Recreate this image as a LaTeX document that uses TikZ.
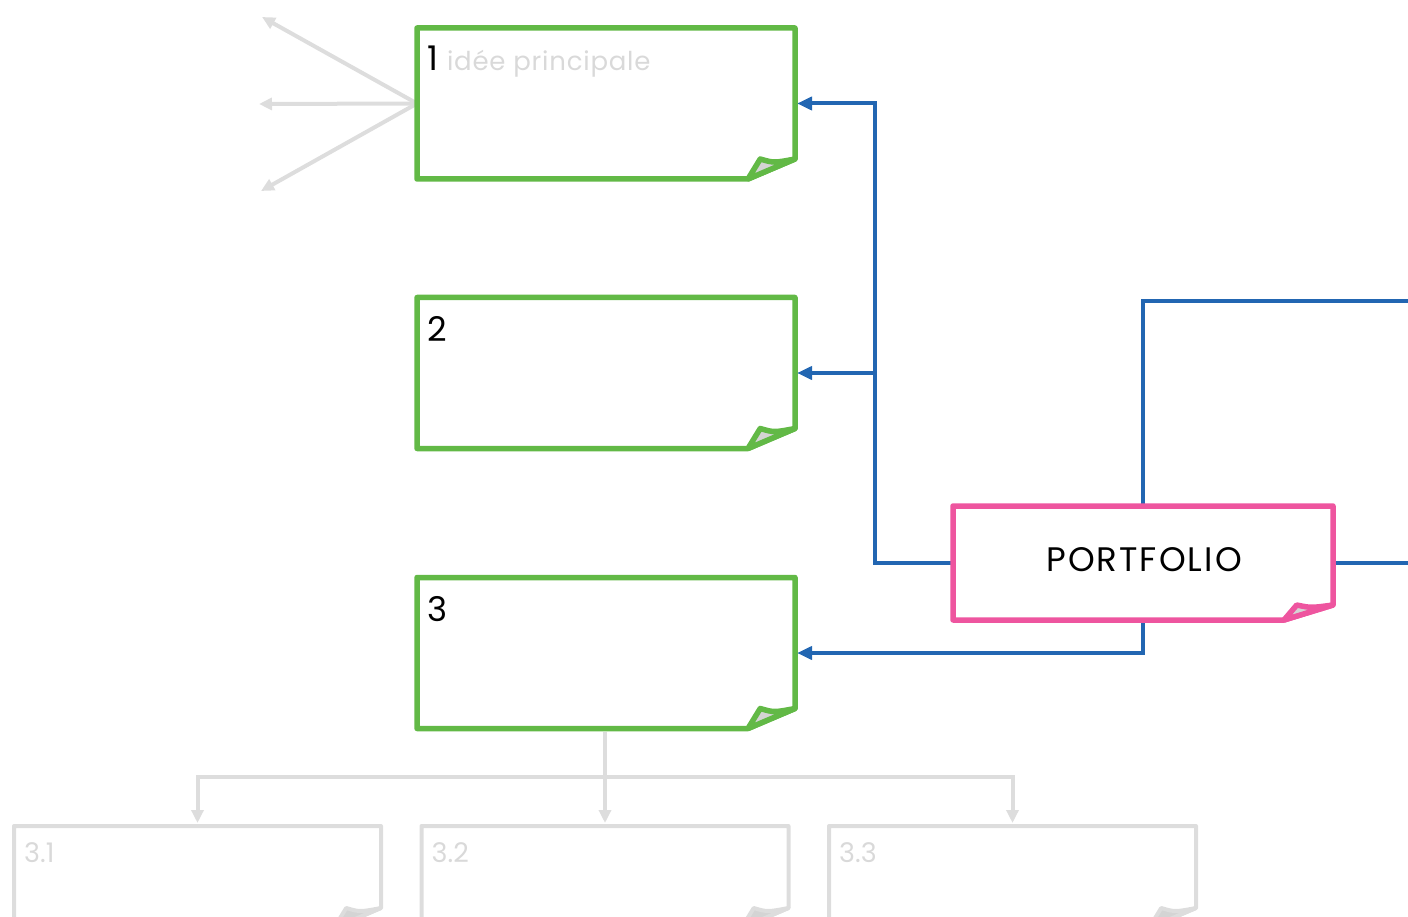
\documentclass[tikz,border=0pt]{standalone}
\usepackage{fontspec}
\setmainfont{Poppins}
\usetikzlibrary{calc,arrows.meta}
\definecolor{gn}{HTML}{62B946}
\definecolor{pkc}{HTML}{EE559F}
\definecolor{bl}{HTML}{2266B2}
\definecolor{gy}{HTML}{DDDDDD}
\definecolor{gt}{HTML}{D9D9D9}
\definecolor{foldc}{HTML}{D4D4D4}
\tikzset{
 greenbox/.style={minimum width=378pt,minimum height=151pt,inner sep=0pt,outer sep=0pt},
 pinkbox/.style={minimum width=380pt,minimum height=114pt,inner sep=0pt,outer sep=0pt,font=\fontsize{34}{40}\selectfont\addfontfeature{LetterSpace=6}},
 greybox/.style={minimum width=367pt,minimum height=102pt,inner sep=0pt,outer sep=0pt},
 blueline/.style={draw=bl,line width=4pt},
 bluearrow/.style={blueline,-{Triangle[length=15pt,width=13pt]},shorten >=2pt},
 greyarrow/.style={draw=gy,line width=4pt,-{Triangle[length=13pt,width=12pt]}},
 numlabel/.style={anchor=base west,inner sep=0pt,font=\fontsize{34}{40}\selectfont},
 sublabel/.style={anchor=base west,inner sep=0pt,text=gt,font=\fontsize{27}{32}\selectfont},
}
\newcommand\drawnote[5]{%
 \draw[draw=#2,line width=#5,line join=round] (#1.north west) -- (#1.north east) -- ($(#1.south east)+(0,-#4)$) -- ($(#1.south east)+(-#3,0)$) -- (#1.south west) -- cycle;
 \filldraw[draw=#2,fill=foldc,line width=#5,line join=round] ($(#1.south east)+(-#3,0)$) -- ($(#1.south east)+(-0.74*#3,-#4)$) .. controls ($(#1.south east)+(-0.45*#3,-0.8*#4)$) .. ($(#1.south east)+(0,-#4)$) -- cycle;
}
\begin{document}
\begin{tikzpicture}[x=1pt,y=-1pt]
\useasboundingbox (0,0) rectangle (1408,917);
\clip (0,0) rectangle (1408,917);
% nodes
\node[greenbox] (b1) at (606,103.5) {};
\node[greenbox] (b2) at (606,373) {};
\node[greenbox] (b3) at (606,653) {};
\node[pinkbox] (pk) at (1143,563) {};
\node[inner sep=0pt,font=\fontsize{34}{40}\selectfont\addfontfeature{LetterSpace=6}] (pkt) at (1144,560) {PORTFOLIO};
\node[greybox] (c1) at (197.5,877) {};
\node[greybox] (c2) at (605,877) {};
\node[greybox] (c3) at (1012.5,877) {};
\coordinate (jx) at (875,373);
\coordinate (g1) at (262,17);
\coordinate (g2) at (259,104);
\coordinate (g3) at (261,191);
\coordinate (hub) at (605,777);
\coordinate (r1) at (1420,301);
\coordinate (r2) at (1420,563);
% grey connectors
\draw[greyarrow] (b1.west) -- (g1);
\draw[greyarrow] (b1.west) -- (g2);
\draw[greyarrow] (b1.west) -- (g3);
\draw[greyarrow,shorten <=3pt,shorten >=3pt] (hub |- b3.south) -- (c2.north);
\draw[greyarrow,shorten >=3pt] (hub) -| (c1.north);
\draw[greyarrow,shorten >=3pt] (hub) -| (c3.north);
% blue connectors
\draw[bluearrow] (pk.west) -- (pk.west -| jx) |- (b1.east);
\draw[bluearrow] (jx) -- (b2.east);
\draw[bluearrow] (pk.south) |- (b3.east);
\draw[blueline] (pk.north) |- (r1);
\draw[blueline] (pk.east) -- (r2);
% outlines
\drawnote{b1}{gn}{47}{20}{5.5pt}
\drawnote{b2}{gn}{47}{20}{5.5pt}
\drawnote{b3}{gn}{47}{20}{5.5pt}
\drawnote{pk}{pkc}{49}{15}{5.5pt}
\drawnote{c1}{gy}{47}{20}{4pt}
\drawnote{c2}{gy}{47}{20}{4pt}
\drawnote{c3}{gy}{47}{20}{4pt}
% labels
\node[numlabel] (t1) at ($(b1.north west)+(10,43)$) {1\hspace{9pt}{\color{gt}\fontsize{26}{30}\selectfont\addfontfeature{LetterSpace=3}idée principale}};
\node[numlabel] (t2) at ($(b2.north west)+(10,44)$) {2};
\node[numlabel] (t3) at ($(b3.north west)+(10,44)$) {3};
\node[sublabel] (s1) at ($(c1.north west)+(10,36)$) {3.1};
\node[sublabel] (s2) at ($(c2.north west)+(10,36)$) {3.2};
\node[sublabel] (s3) at ($(c3.north west)+(10,36)$) {3.3};
\end{tikzpicture}
\end{document}
